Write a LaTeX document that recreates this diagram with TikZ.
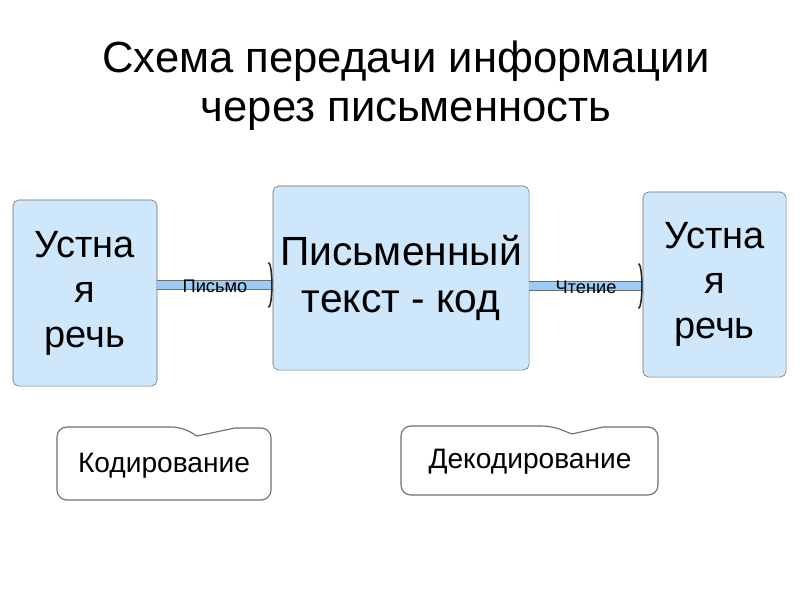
\documentclass[tikz,border=0pt]{standalone}
\usepackage{fontspec}
\setmainfont{Liberation Sans}
\usetikzlibrary{arrows.meta}
\definecolor{boxblue}{HTML}{CFE7FA}
\definecolor{barblue}{HTML}{9CCBF5}
\definecolor{edgegray}{HTML}{6E6E6E}
\tikzset{
  block/.style={draw=edgegray, fill=boxblue, rounded corners=4pt, align=center,
    inner sep=0pt, font=\fontsize{27}{32}\selectfont},
  bar/.style={draw=edgegray, double=barblue, double distance=6pt, line width=0.45pt},
  bartip/.style={barblue, line width=0.5pt,
    -{Arc Barb[color=black!85, width=33pt, length=3pt, line width=1.1pt]}},
  barlabel/.style={font=\fontsize{13}{13}\selectfont, inner sep=0pt},
  callout/.style={draw=edgegray, fill=white, line width=0.8pt},
  callouttext/.style={font=\fontsize{20}{24}\selectfont},
}
\begin{document}
\begin{tikzpicture}[x=0.025cm, y=-0.025cm]
  \useasboundingbox (0,0) rectangle (800,600);
  \node[font=\fontsize{31}{35}\selectfont, align=center] (title) at (406,86)
    {Схема передачи информации\\через письменность};
  % blocks
  \node[block, minimum width=3.6cm, minimum height=4.65cm] (oral1) at (85,293) {Устна\\я\\речь};
  \node[block, minimum width=6.4cm, minimum height=4.6cm,
    font=\fontsize{29}{33}\selectfont] (written) at (401,278) {Письменный\\текст - код};
  \node[block, minimum width=3.575cm, minimum height=4.625cm] (oral2) at (714.5,284.5) {Устна\\я\\речь};
  \coordinate (rowA) at (0,285);
  \coordinate (rowB) at (0,286);
  % connectors
  \draw[bar] (oral1.east |- rowA) -- (written.west |- rowA);
  \draw[bartip] (oral1.east |- rowA) -- (written.west |- rowA)
    node[barlabel, midway, text=black, yshift=-1pt] {Письмо};
  \draw[bar] (written.east |- rowB) -- (oral2.west |- rowB);
  \draw[bartip] (written.east |- rowB) -- (oral2.west |- rowB)
    node[barlabel, midway, text=black, yshift=-1pt] {Чтение};
  % callouts
  \draw[callout] (57,460) [rounded corners=7pt] -- (57,427) -- (182,427)
    [sharp corners] -- (197,436) -- (235,428) [rounded corners=7pt] -- (271,428)
    -- (271,500) -- (57,500) -- cycle;
  \node[callouttext] (coding) at (164,466) {Кодирование};
  \draw[callout] (401,460) [rounded corners=7pt] -- (401,426) -- (552,426)
    [sharp corners] -- (572,434) -- (603,427) [rounded corners=7pt] -- (658,427)
    -- (658,495) -- (401,495) -- cycle;
  \node[callouttext] (decoding) at (530,462) {Декодирование};
\end{tikzpicture}
\end{document}
